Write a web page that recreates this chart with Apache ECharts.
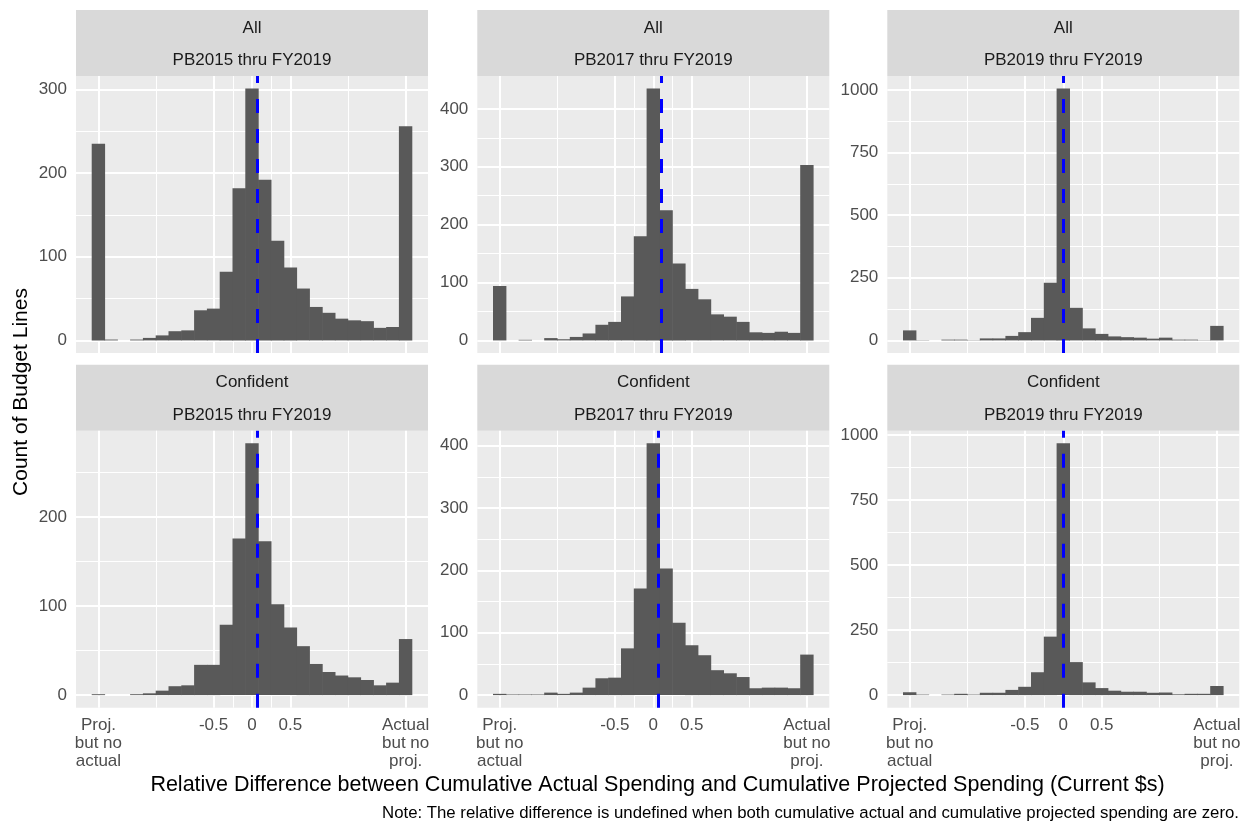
<!DOCTYPE html>
<html>
<head>
<meta charset="utf-8">
<script src="https://cdn.jsdelivr.net/npm/echarts@6/dist/echarts.min.js"></script>
<style>
  html, body { margin: 0; padding: 0; background: #fff; }
  #main { width: 1248px; height: 823px; }
</style>
</head>
<body>
<div id="main"></div>
<script>
// histogram bins: 25 bins of width 1/6, centred on -2 .. 2
var binWidth = 1 / 6;
var binIndex = [-12, -11, -10, -9, -8, -7, -6, -5, -4, -3, -2, -1, 0, 1, 2, 3, 4, 5, 6, 7, 8, 9, 10, 11, 12];
var binCenters = binIndex.map(function (k) { return k * binWidth; });

// counts per panel
var allPB2015 = [235, 1, 0, 1, 3, 6, 11, 12, 36, 38, 82, 182, 301, 192, 119, 87, 62, 40, 33, 26, 24, 23, 15, 16, 256];
var allPB2017 = [94, 0, 1, 0, 4, 2, 6, 12, 27, 32, 76, 180, 435, 225, 133, 89, 71, 45, 41, 32, 14, 13, 15, 13, 303];
var allPB2019 = [40, 1, 0, 3, 3, 1, 8, 8, 18, 33, 90, 230, 1005, 130, 48, 26, 16, 13, 11, 7, 11, 3, 3, 1, 58];
var confPB2015 = [1, 0, 0, 1, 2, 5, 10, 11, 34, 34, 79, 176, 283, 173, 102, 76, 55, 35, 26, 22, 20, 17, 11, 14, 63];
var confPB2017 = [2, 1, 1, 1, 4, 2, 4, 12, 27, 28, 75, 171, 404, 203, 116, 80, 64, 40, 35, 29, 11, 12, 12, 11, 65];
var confPB2019 = [11, 2, 0, 2, 5, 2, 9, 9, 20, 32, 88, 225, 969, 127, 49, 27, 17, 13, 13, 9, 10, 3, 5, 5, 35];

// dashed reference line position per panel
var refLine = [0.069, 0.113, 0, 0.069, 0.056, 0];

// strip labels
var stripTop = ['All', 'All', 'All', 'Confident', 'Confident', 'Confident'];
var stripBottom = ['PB2015 thru FY2019', 'PB2017 thru FY2019', 'PB2019 thru FY2019',
                   'PB2015 thru FY2019', 'PB2017 thru FY2019', 'PB2019 thru FY2019'];

// axis ticks
var xTicks = [-2, -0.5, 0, 0.5, 2];
var xTickLabels = ['Proj.\nbut no\nactual', '-0.5', '0', '0.5', 'Actual\nbut no\nproj.'];
var xMinor = [-1.25, -0.25, 0.25, 1.25];
var yTicks = [
    [0, 100, 200, 300],
    [0, 100, 200, 300, 400],
    [0, 250, 500, 750, 1000],
    [0, 100, 200],
    [0, 100, 200, 300, 400],
    [0, 250, 500, 750, 1000]
];
var yMinor = [
    [50, 150, 250],
    [50, 150, 250, 350],
    [125, 375, 625, 875],
    [50, 150, 250],
    [50, 150, 250, 350],
    [125, 375, 625, 875]
];

var panels = [allPB2015, allPB2017, allPB2019, confPB2015, confPB2017, confPB2019];

var FONT = 'Liberation Sans, Arial, sans-serif';
var colLeft = [76, 477.3, 887.3];
var rowTop = [76, 430.7];
var panelW = 352, panelH = 277, stripH = 66;

// x range: bin edges plus 5% expansion, like ggplot
var xLo = binCenters[0] - binWidth / 2;
var xHi = binCenters[binCenters.length - 1] + binWidth / 2;
var xPad = (xHi - xLo) * 0.05;

var grids = [], xAxes = [], yAxes = [], series = [], graphics = [];

panels.forEach(function (vals, i) {
    var col = i % 3, row = Math.floor(i / 3);
    var left = colLeft[col], top = rowTop[row];
    var maxV = Math.max.apply(null, vals);

    grids.push({
        left: left, top: top, width: panelW, height: panelH,
        show: true, backgroundColor: '#ebebeb', borderWidth: 0
    });

    xAxes.push({
        type: 'value', gridIndex: i,
        min: xLo - xPad, max: xHi + xPad,
        axisLine: { show: false },
        splitLine: { show: false },
        axisTick: {
            show: row === 1, customValues: xTicks, length: 5,
            lineStyle: { color: '#333333', width: 1 }
        },
        axisLabel: {
            show: row === 1, customValues: xTicks, margin: 8,
            color: '#4d4d4d', fontSize: 17, lineHeight: 18.3, fontFamily: FONT,
            formatter: function (v) {
                var idx = xTicks.indexOf(v);
                return idx >= 0 ? xTickLabels[idx] : '';
            }
        }
    });

    yAxes.push({
        type: 'value', gridIndex: i,
        min: -maxV * 0.05, max: maxV * 1.05,
        axisLine: { show: false },
        splitLine: { show: false },
        axisTick: {
            show: true, customValues: yTicks[i], length: 5,
            lineStyle: { color: '#333333', width: 1 }
        },
        axisLabel: {
            customValues: yTicks[i], margin: 9,
            color: '#4d4d4d', fontSize: 17, fontFamily: FONT,
            formatter: function (v) { return String(v); }
        }
    });

    // white grid lines
    var gl = [];
    xTicks.forEach(function (v) { gl.push({ xAxis: v, lineStyle: { width: 2 } }); });
    xMinor.forEach(function (v) { gl.push({ xAxis: v, lineStyle: { width: 1 } }); });
    yTicks[i].forEach(function (v) { gl.push({ yAxis: v, lineStyle: { width: 2 } }); });
    yMinor[i].forEach(function (v) {
        if (v < maxV * 1.05) gl.push({ yAxis: v, lineStyle: { width: 1 } });
    });
    series.push({
        type: 'line', xAxisIndex: i, yAxisIndex: i, data: [],
        silent: true, animation: false,
        markLine: {
            silent: true, animation: false, z: 1, symbol: ['none', 'none'],
            label: { show: false },
            lineStyle: { color: '#ffffff', type: 'solid' },
            data: gl
        }
    });

    // histogram bars
    series.push({
        type: 'custom', xAxisIndex: i, yAxisIndex: i, z: 2,
        silent: true, animation: false,
        data: binCenters.map(function (c, j) { return [c, vals[j]]; }),
        renderItem: function (params, api) {
            var x = api.value(0), y = api.value(1);
            var p0 = api.coord([x - binWidth / 2, y]);
            var p1 = api.coord([x + binWidth / 2, 0]);
            // small overlap so neighbouring bars show no seam
            return {
                type: 'rect',
                shape: { x: p0[0] - 0.3, y: p0[1], width: p1[0] - p0[0] + 0.6, height: p1[1] - p0[1] },
                style: { fill: '#595959' }
            };
        }
    });

    // blue dashed reference line
    series.push({
        type: 'line', xAxisIndex: i, yAxisIndex: i, data: [],
        silent: true, animation: false,
        markLine: {
            silent: true, animation: false, z: 5, symbol: ['none', 'none'],
            label: { show: false },
            lineStyle: { color: '#0000ff', width: 3, type: [14, 16], cap: 'butt' },
            data: [{ xAxis: refLine[i] }]
        }
    });

    // facet strip
    var stripY = top - stripH;
    graphics.push({
        type: 'rect', silent: true,
        shape: { x: left, y: stripY, width: panelW, height: stripH },
        style: { fill: '#d9d9d9' }
    });
    graphics.push({
        type: 'text', silent: true, x: left + panelW / 2, y: stripY + 18,
        style: { text: stripTop[i], font: '17px ' + FONT, fill: '#1a1a1a', align: 'center', verticalAlign: 'middle' }
    });
    graphics.push({
        type: 'text', silent: true, x: left + panelW / 2, y: stripY + 50.5,
        style: { text: stripBottom[i], font: '17px ' + FONT, fill: '#1a1a1a', align: 'center', verticalAlign: 'middle' }
    });
});

// shared axis titles and caption
graphics.push({
    type: 'text', silent: true, x: 21, y: 392, rotation: Math.PI / 2,
    style: { text: 'Count of Budget Lines', font: '21px ' + FONT, fill: '#000', align: 'center', verticalAlign: 'middle' }
});
graphics.push({
    type: 'text', silent: true, x: 657.5, y: 785,
    style: {
        text: 'Relative Difference between Cumulative Actual Spending and Cumulative Projected Spending (Current $s)',
        font: '21.5px ' + FONT, fill: '#000', align: 'center', verticalAlign: 'middle'
    }
});
graphics.push({
    type: 'text', silent: true, x: 1239, y: 813.5,
    style: {
        text: 'Note: The relative difference is undefined when both cumulative actual and cumulative projected spending are zero.',
        font: '16.8px ' + FONT, fill: '#000', align: 'right', verticalAlign: 'middle'
    }
});

var chart = echarts.init(document.getElementById('main'));
chart.setOption({
    animation: false,
    backgroundColor: '#ffffff',
    grid: grids,
    xAxis: xAxes,
    yAxis: yAxes,
    series: series,
    graphic: graphics
});
</script>
</body>
</html>
